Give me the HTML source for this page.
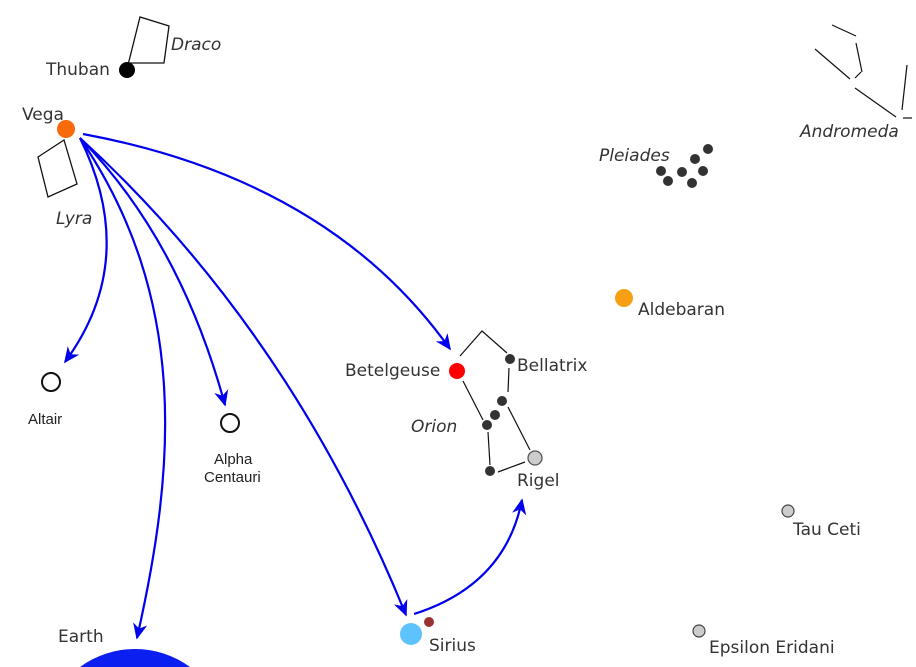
<!DOCTYPE html>
<html><head><meta charset="utf-8"><style>
html,body{margin:0;padding:0;background:#fff;width:916px;height:667px;overflow:hidden;}
svg{display:block;}
text{font-family:"DejaVu Sans","Liberation Sans",sans-serif;font-size:17px;fill:#333;}
.it{font-style:italic;}
.sm{font-family:"Liberation Sans",sans-serif;font-size:15px;fill:#222;}
</style></head><body>
<svg width="916" height="667" viewBox="0 0 916 667" xmlns="http://www.w3.org/2000/svg">
<defs>
<marker id="a" viewBox="0 0 20 20" refX="18" refY="10" markerWidth="16" markerHeight="16" markerUnits="userSpaceOnUse" orient="auto">
<path d="M0,1 L20,10 L0,19 L6,10 Z" fill="#0000ee"/>
</marker>
</defs>
<path d="M80,667 A93,93 0 0 1 190,667 Z" fill="#0a1ff0"/>
<polyline points="127,69 140,17 169,26 164,63 130,63" fill="none" stroke="#111" stroke-width="1.3"/>
<circle cx="127" cy="70" r="8" fill="#000"/>
<polygon points="38,157 64,140 77,184 48,197" fill="none" stroke="#111" stroke-width="1.3"/>
<circle cx="66" cy="129" r="9" fill="#f96b0a"/>
<g fill="none" stroke="#0000ee" stroke-width="2.2">
<path d="M83,134 Q330,180 450,349" marker-end="url(#a)"/>
<path d="M80,138 Q290,330 406,615" marker-end="url(#a)"/>
<path d="M80,138 Q180,240 225,405" marker-end="url(#a)"/>
<path d="M80,138 Q140,260 65,362" marker-end="url(#a)"/>
<path d="M80,138 C190,300 175,470 137,638" marker-end="url(#a)"/>
<path d="M414,614 Q505,585 522,500" marker-end="url(#a)"/>
</g>
<g stroke="#111" stroke-width="1.2" fill="none">
<polyline points="460,356 482,331 507,353"/>
<line x1="509" y1="368" x2="508" y2="392"/>
<line x1="463" y1="381" x2="483" y2="420"/>
<line x1="508" y1="407" x2="530" y2="450"/>
<line x1="488" y1="432" x2="490" y2="465"/>
<line x1="498" y1="472" x2="525" y2="462"/>
</g>
<circle cx="457" cy="371" r="8" fill="#f00"/>
<g fill="#333">
<circle cx="510" cy="359" r="5"/>
<circle cx="502" cy="401" r="5"/>
<circle cx="495" cy="415" r="5"/>
<circle cx="487" cy="425" r="5"/>
<circle cx="490" cy="471" r="5"/>
</g>
<circle cx="535" cy="458" r="7" fill="#ccc" stroke="#555" stroke-width="1.3"/>
<g stroke="#111" stroke-width="1.2">
<line x1="832" y1="25" x2="856" y2="36"/>
<line x1="856" y1="43" x2="862" y2="72"/>
<line x1="815" y1="49" x2="850" y2="79"/>
<line x1="855" y1="78" x2="861" y2="72"/>
<line x1="855" y1="88" x2="896" y2="117"/>
<line x1="907" y1="65" x2="902" y2="110"/>
<line x1="903" y1="118" x2="912" y2="118"/>
</g>
<g fill="#333">
<circle cx="708" cy="149" r="5"/>
<circle cx="695" cy="159" r="5"/>
<circle cx="661" cy="171" r="5"/>
<circle cx="682" cy="172" r="5"/>
<circle cx="703" cy="171" r="5"/>
<circle cx="668" cy="181" r="5"/>
<circle cx="692" cy="183" r="5"/>
</g>
<circle cx="624" cy="298" r="9" fill="#f7a014"/>
<circle cx="51" cy="382" r="9" fill="#fff" stroke="#111" stroke-width="2"/>
<circle cx="230" cy="423" r="9" fill="#fff" stroke="#111" stroke-width="2"/>
<circle cx="788" cy="511" r="6" fill="#ccc" stroke="#444" stroke-width="1.2"/>
<circle cx="699" cy="631" r="6" fill="#ccc" stroke="#444" stroke-width="1.2"/>
<circle cx="411" cy="634" r="11" fill="#5ec3fc"/>
<circle cx="429" cy="622" r="5" fill="#993333"/>
<text x="46" y="75">Thuban</text>
<text class="it" x="171" y="50">Draco</text>
<text x="22" y="120">Vega</text>
<text class="it" x="56" y="224">Lyra</text>
<text class="it" x="599" y="161">Pleiades</text>
<text class="it" x="800" y="137">Andromeda</text>
<text x="638" y="315">Aldebaran</text>
<text x="345" y="376">Betelgeuse</text>
<text x="517" y="371">Bellatrix</text>
<text class="it" x="411" y="432">Orion</text>
<text x="517" y="486">Rigel</text>
<text x="793" y="535">Tau Ceti</text>
<text x="709" y="653">Epsilon Eridani</text>
<text x="429" y="651">Sirius</text>
<text x="58" y="642">Earth</text>
<text class="sm" x="28" y="424">Altair</text>
<text class="sm" x="214" y="464">Alpha</text>
<text class="sm" x="204" y="482">Centauri</text>
</svg>
</body></html>
